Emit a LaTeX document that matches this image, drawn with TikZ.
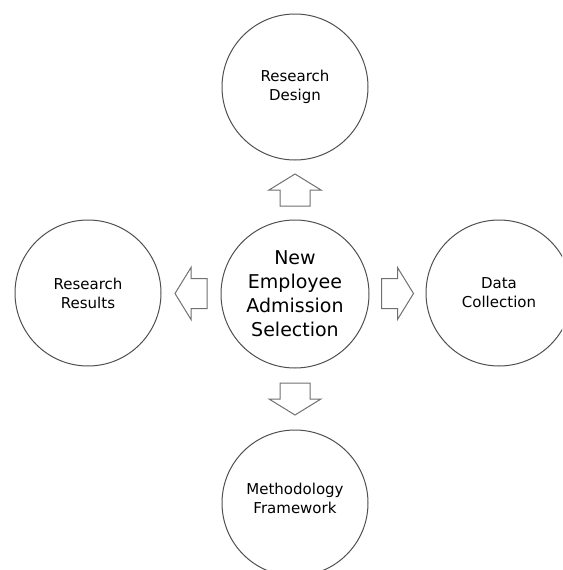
\documentclass[tikz,border=0pt]{standalone}
\usepackage{fontspec}
\setmainfont{DejaVu Sans}
\usetikzlibrary{calc}
\definecolor{circline}{HTML}{505050}
\definecolor{arrowline}{HTML}{707070}

\begin{document}
\begin{tikzpicture}[x=1pt, y=-1pt,
  stage/.style={circle, draw=circline, line width=1pt, minimum size=146pt,
    inner sep=0pt, align=center, font=\fontsize{15}{19}\selectfont},
  core/.style={stage, minimum size=148pt, font=\fontsize{19}{24}\selectfont},
  blockarrow/.pic={
    \draw[draw=arrowline, line width=1pt, fill=white]
      (-16,-15) -- (0,-15) -- (0,-26) -- (16,0) -- (0,26) -- (0,15) -- (-16,15) -- cycle;
  }]
  \clip (0,0) rectangle (562,570);

  % the five stages
  \node[core]  (center)  at (295,294) {New\\Employee\\Admission\\Selection};
  \node[stage] (design)  at (295,87)  {Research\\Design};
  \node[stage] (results) at (88,293)  {Research\\Results};
  \node[stage] (data)    at (499,293) {Data\\Collection};
  \node[stage] (method)  at (295,503) {};
  \node[font=\fontsize{15}{19}\selectfont, align=center] (methodtext) at (295,498) {Methodology\\Framework};

  % hollow block arrows between the centre and each stage
  \pic[rotate=90]  at ($(center.north)!0.5!(design.south)$) {blockarrow};
  \pic[rotate=180] at ($(center.west)!0.5!(results.east)$) {blockarrow};
  \pic             at ($(center.east)!0.5!(data.west)$)    {blockarrow};
  \pic[rotate=-90] at ($(center.south)!0.5!(method.north)$) {blockarrow};
\end{tikzpicture}
\end{document}
